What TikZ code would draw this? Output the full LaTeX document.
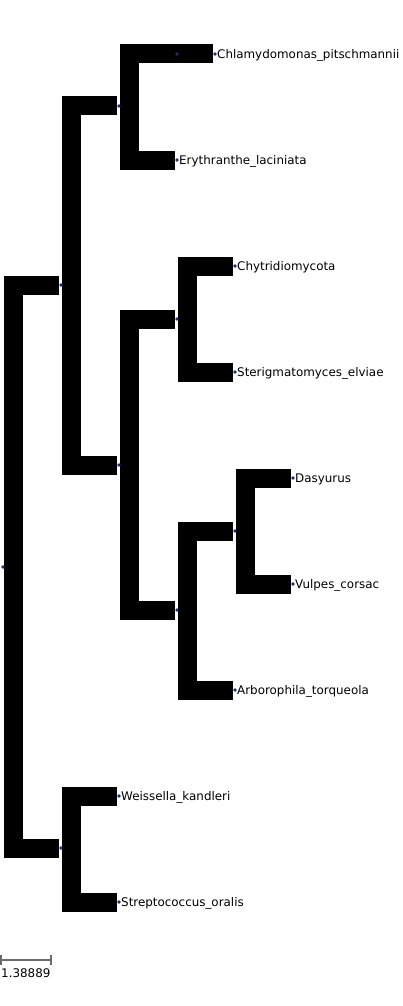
\documentclass[tikz,border=0pt]{standalone}
\usepackage{fontspec}
\setmainfont{DejaVu Sans}
\usetikzlibrary{calc}
\definecolor{dotblue}{HTML}{1F2A80}
\definecolor{scalegray}{HTML}{6A6A6A}
\begin{document}
\begin{tikzpicture}[x=1pt,y=-1pt,
  branch/.style={line width=19pt,black,line join=miter},
  dotnode/.style={circle,fill=dotblue,inner sep=0pt,minimum size=3.6pt},
  lab/.style={anchor=base west,inner sep=0pt,font=\fontsize{11.9}{14}\selectfont,text=black},
  scalebar/.style={line width=1.5pt,scalegray}]
\useasboundingbox (0,0) rectangle (402,1006);
% internal nodes
\coordinate (r) at (3,567);
\coordinate (a) at (61,285);
\coordinate (w) at (61,848);
\coordinate (b) at (119,106);
\coordinate (c) at (119,465);
\coordinate (u) at (177,54);
\coordinate (d) at (177,319);
\coordinate (e) at (177,610);
\coordinate (f) at (235,531);
% leaves
\coordinate (chl) at (215,54);
\coordinate (ery) at (177,160);
\coordinate (chy) at (235,266);
\coordinate (ste) at (235,372);
\coordinate (das) at (293,478);
\coordinate (vul) at (293,584);
\coordinate (arb) at (235,690);
\coordinate (wei) at (119,796);
\coordinate (str) at (119,902);
% brackets
\draw[branch] ([xshift=-2pt]a) -| ([xshift=10pt]r |- w) -- ([xshift=-2pt]w);
\draw[branch] ([xshift=-2pt]b) -| ([xshift=10pt]a |- c) -- ([xshift=-2pt]c);
\draw[branch] ([xshift=-2pt]u) -| ([xshift=10pt]b |- ery) -- ([xshift=-2pt]ery);
\draw[branch] ([xshift=-3pt]u) -- ([xshift=-2pt]chl);
\draw[branch] ([xshift=-2pt]d) -| ([xshift=10pt]c |- e) -- ([xshift=-2pt]e);
\draw[branch] ([xshift=-2pt]chy) -| ([xshift=10pt]d |- ste) -- ([xshift=-2pt]ste);
\draw[branch] ([xshift=-2pt]f) -| ([xshift=10pt]e |- arb) -- ([xshift=-2pt]arb);
\draw[branch] ([xshift=-2pt]das) -| ([xshift=10pt]f |- vul) -- ([xshift=-2pt]vul);
\draw[branch] ([xshift=-2pt]wei) -| ([xshift=10pt]w |- str) -- ([xshift=-2pt]str);
% dots
\foreach \n in {r,a,w,b,c,u,d,e,f,chl,ery,chy,ste,das,vul,arb,wei,str}
  \node[dotnode] (\n-dot) at (\n) {};
% labels
\node[lab] (chl-t) at ([shift={(2,4.3)}]chl) {Chlamydomonas\_pitschmannii};
\node[lab] (ery-t) at ([shift={(2,4.3)}]ery) {Erythranthe\_laciniata};
\node[lab] (chy-t) at ([shift={(2,4.3)}]chy) {Chytridiomycota};
\node[lab] (ste-t) at ([shift={(2,4.3)}]ste) {Sterigmatomyces\_elviae};
\node[lab] (das-t) at ([shift={(2,4.3)}]das) {Dasyurus};
\node[lab] (vul-t) at ([shift={(2,4.3)}]vul) {Vulpes\_corsac};
\node[lab] (arb-t) at ([shift={(2,4.3)}]arb) {Arborophila\_torqueola};
\node[lab] (wei-t) at ([shift={(2,4.3)}]wei) {Weissella\_kandleri};
\node[lab] (str-t) at ([shift={(2,4.3)}]str) {Streptococcus\_oralis};
% scale bar
\coordinate (sb1) at (1,960);
\coordinate (sb2) at (51,960);
\draw[scalebar] (sb1) -- (sb2);
\draw[scalebar] ([yshift=-5pt]sb1) -- ([yshift=5pt]sb1);
\draw[scalebar] ([yshift=-5pt]sb2) -- ([yshift=5pt]sb2);
\node[lab] (sb-t) at (1,977) {1.38889};
\end{tikzpicture}
\end{document}
